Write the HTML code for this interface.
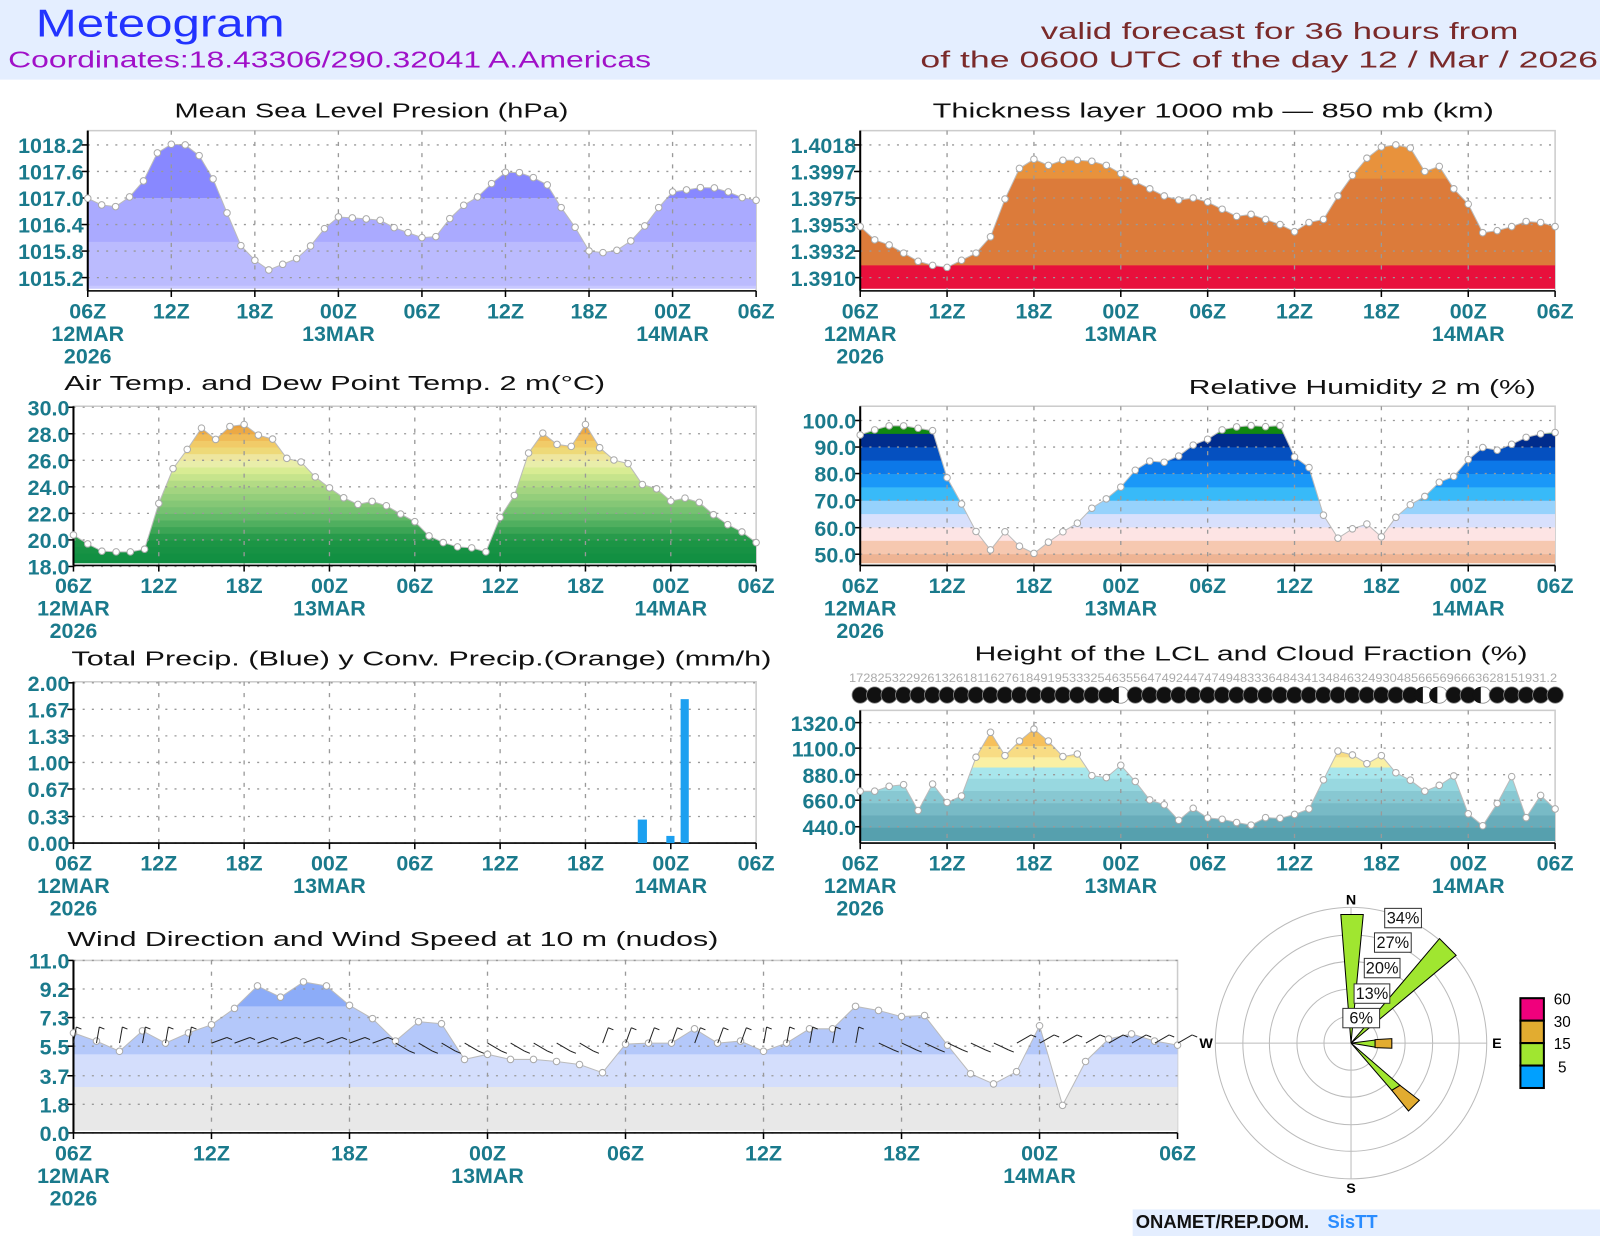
<!DOCTYPE html>
<html><head><meta charset="utf-8"><style>
html,body{margin:0;padding:0;background:#fff}
svg{display:block}
text{font-family:"Liberation Sans",sans-serif}
.t{font-size:20px;fill:#111}
.yl{font-family:"Liberation Sans Narrow","Liberation Sans",sans-serif;font-size:21px;fill:#1a7a8c;text-anchor:end;font-weight:bold}
.xl{font-family:"Liberation Sans Narrow","Liberation Sans",sans-serif;font-size:21px;fill:#1a7a8c;text-anchor:middle;font-weight:bold}
</style></head><body>
<svg id="s" xmlns="http://www.w3.org/2000/svg" width="1600" height="1236" viewBox="0 0 1568 1211" preserveAspectRatio="none">
<rect x="0" y="0" width="1568" height="1211" fill="#fff"/>
<rect x="0" y="0" width="1568" height="78" fill="#e4eeff"/>
<text x="35" y="36" font-size="38" fill="#2233ff" textLength="244" lengthAdjust="spacingAndGlyphs">Meteogram</text>
<text x="8" y="66" font-size="23" fill="#a010c8" textLength="630" lengthAdjust="spacingAndGlyphs">Coordinates:18.43306/290.32041  A.Americas</text>
<text x="1020" y="38" font-size="23" fill="#7a2a2a" textLength="468" lengthAdjust="spacingAndGlyphs">valid forecast for 36 hours from</text>
<text x="902" y="66" font-size="23" fill="#7a2a2a" textLength="664" lengthAdjust="spacingAndGlyphs">of the 0600 UTC of the day 12 / Mar / 2026</text>
<text class="t" x="171" y="115" textLength="386" lengthAdjust="spacingAndGlyphs">Mean Sea Level Presion (hPa)</text>
<text class="t" x="914" y="115" textLength="550" lengthAdjust="spacingAndGlyphs">Thickness layer 1000 mb — 850 mb (km)</text>
<text class="t" x="63" y="382" textLength="530" lengthAdjust="spacingAndGlyphs">Air Temp. and Dew Point Temp. 2 m(°C)</text>
<text class="t" x="1165" y="386" textLength="340" lengthAdjust="spacingAndGlyphs">Relative Humidity 2 m (%)</text>
<text class="t" x="70" y="652" textLength="686" lengthAdjust="spacingAndGlyphs">Total Precip. (Blue) y Conv. Precip.(Orange) (mm/h)</text>
<text class="t" x="955" y="647" textLength="542" lengthAdjust="spacingAndGlyphs">Height of the LCL and Cloud Fraction (%)</text>
<text class="t" x="66" y="927" textLength="638" lengthAdjust="spacingAndGlyphs">Wind Direction and Wind Speed at 10 m (nudos)</text>
<rect x="1110" y="1185" width="458" height="26" fill="#e4eeff"/>
<text x="1113" y="1203" font-size="18" fill="#111" font-weight="bold" textLength="170" lengthAdjust="spacingAndGlyphs">ONAMET/REP.DOM.</text>
<text x="1301" y="1203" font-size="18" fill="#2a8cff" font-weight="bold">SisTT</text>
<g id="g"></g>
</svg>
<script>
var NS="http://www.w3.org/2000/svg",G=document.getElementById('g');
function el(t,a,p){var e=document.createElementNS(NS,t);for(var k in a)e.setAttribute(k,a[k]);(p||G).appendChild(e);return e;}
function tx(s,a){var e=el('text',a);e.textContent=s;return e;}
var cid=0;
function panel(o){
 var x0=o.x0,x1=o.x1,y0=o.y0,y1=o.y1,n=o.n||49;
 el('rect',{x:x0,y:y0,width:x1-x0,height:y1-y0,fill:'#fff',stroke:'#ccc','stroke-width':1.5});
 var pts=[];
 if(o.ys){for(var i=0;i<o.ys.length;i++)pts.push([x0+(x1-x0)*i/(o.ys.length-1),o.ys[i]]);}
 if(pts.length){
  cid++;var cp=el('clipPath',{id:'c'+cid});
  var d='M'+x0+','+(y1-2)+' '+pts.map(function(p){return 'L'+p[0].toFixed(1)+','+p[1].toFixed(1)}).join(' ')+' L'+x1+','+(y1-2)+'Z';
  el('path',{d:d},cp);
  var g=el('g',{'clip-path':'url(#c'+cid+')'});
  o.bands.forEach(function(b){el('rect',{x:x0,y:b[0],width:x1-x0,height:b[1]-b[0]+0.5,fill:b[2]},g);});
  el('polyline',{points:pts.map(function(p){return p[0].toFixed(1)+','+p[1].toFixed(1)}).join(' '),fill:'none',stroke:'#bbb','stroke-width':1});
 }
 // grid
 o.yt.forEach(function(t){el('line',{x1:x0,x2:x1,y1:t[0],y2:t[0],stroke:'#999','stroke-dasharray':'2,7','stroke-width':1.3});
   el('line',{x1:x0-6,x2:x0,y1:t[0],y2:t[0],stroke:'#000','stroke-width':1.5});
   tx(t[1],{x:x0-4,y:t[0]+8,'class':'yl'});});
 var labs=['06Z','12Z','18Z','00Z','06Z','12Z','18Z','00Z','06Z'];
 for(var k=0;k<9;k++){var xx=x0+(x1-x0)*k/8;
  if(k>0&&k<8)el('line',{x1:xx,x2:xx,y1:y0,y2:y1,stroke:'#999','stroke-dasharray':'4,7','stroke-width':1.3});
  el('line',{x1:xx,x2:xx,y1:y1,y2:y1+6,stroke:'#000','stroke-width':1.5});
  tx(labs[k],{x:xx,y:y1+27,'class':'xl'});}
 tx('12MAR',{x:x0,y:y1+49,'class':'xl'});tx('2026',{x:x0,y:y1+71,'class':'xl'});
 tx('13MAR',{x:x0+(x1-x0)*3/8,y:y1+49,'class':'xl'});tx('14MAR',{x:x0+(x1-x0)*7/8,y:y1+49,'class':'xl'});
 el('line',{x1:x0,x2:x0,y1:y0,y2:y1,stroke:'#000','stroke-width':2});
 el('line',{x1:x0,x2:x1,y1:y1,y2:y1,stroke:'#000','stroke-width':1.5});
 if(o.dots!==false)pts.forEach(function(p){el('circle',{cx:p[0],cy:p[1],r:3.2,fill:'#fff',stroke:'#aaa','stroke-width':1});});
}
// P1 MSLP
var mz=[322,342,347,318,270,186,160,162,194,264,366,464,508,537,520,503,465,413,378,381,384,388,410,425,440,437,383,343,318,278,244,245,260,282,350,409,480,485,478,450,405,350,303,297,290,291,303,320,328];
var y1=mz.map(function(z){return 142+(z-162)*130/398;});
panel({x0:86,x1:741,y0:128,y1:285,ys:y1,
 bands:[[120,194,'#8888ff'],[194,237,'#aaaaff'],[237,280,'#bbbbfe'],[280,285,'#c8c8ff']],
 yt:[[142,'1018.2'],[168,'1017.6'],[194,'1017.0'],[220,'1016.4'],[246,'1015.8'],[272,'1015.2']]});
// P2 thickness
var th=[222,235,240,248,256,260,262,255,248,232,195,165,156,162,157,157,158,162,170,178,185,192,196,194,198,205,212,210,215,220,227,218,215,192,172,155,144,142,145,168,163,185,200,228,226,222,217,218,222];
panel({x0:843,x1:1524,y0:128,y1:285,ys:th,
 bands:[[120,175,'#e8923c'],[175,260,'#dc7b3a'],[260,285,'#e8103c']],
 yt:[[142,'1.4018'],[168,'1.3997'],[194,'1.3975'],[220,'1.3953'],[246,'1.3932'],[272,'1.3910']]});
// P3 temp
var tz=[465,492,514,516,516,508,370,265,207,143,177,138,132,164,176,234,245,290,323,353,373,364,377,402,425,468,488,501,504,516,412,346,218,158,192,198,132,202,239,250,313,326,363,354,367,404,434,456,488];
var ty=tz.map(function(z){return 399+(z-80)*156/480;});
function tY(v){return 399+(30-v)*13;}
var tb=[],stops=[[18,[10,140,64]],[20,[30,150,70]],[22,[110,190,110]],[24,[170,215,130]],[25.5,[225,240,150]],[26,[240,236,190]],[26.5,[236,224,128]],[27.5,[242,196,96]],[28.5,[234,160,60]],[30,[230,150,50]]];
function col(v){for(var i=0;i<stops.length-1;i++){var a=stops[i],b=stops[i+1];if(v<=b[0]){var f=(v-a[0])/(b[0]-a[0]);return 'rgb('+a[1].map(function(c,j){return Math.round(c+(b[1][j]-c)*f)}).join(',')+')';}}return 'rgb(230,150,50)';}
for(var v=18;v<30;v+=0.5)tb.push([tY(v+0.5),tY(v),col(v+0.25)]);
panel({x0:72,x1:741,y0:398,y1:554,ys:ty,bands:tb,
 yt:[[399,'30.0'],[425,'28.0'],[451,'26.0'],[477,'24.0'],[503,'22.0'],[529,'20.0'],[555,'18.0']]});
// P4 RH
var rh=[94.6,96.5,98,98,97.1,96.2,78.6,68.8,58.5,51.6,58.4,53,50.3,54.5,58.4,61.6,67.2,70.7,75.1,81.4,84.8,84.4,86.7,90.8,93,96.5,97.6,98.1,97.7,98.1,86.4,82.4,64.6,56,59.5,61.3,56.5,63.8,68.5,71.6,76.9,79.1,85.4,89.9,88.9,91.1,93.7,95,95.5];
function rY(v){return 412+(100-v)*2.62;}
var rc=[[95,105,'#118811'],[90,95,'#002c8c'],[85,90,'#0550c0'],[80,85,'#0c78e8'],[75,80,'#1a98f8'],[70,75,'#38baf8'],[65,70,'#96d2fc'],[60,65,'#d8e0fc'],[55,60,'#fde4e4'],[50,55,'#f6c8b0'],[40,50,'#eeb494']];
panel({x0:843,x1:1524,y0:398,y1:554,ys:rh.map(rY),bands:rc.map(function(c){return [rY(c[1]),rY(c[0]),c[2]]}),
 yt:[[412,'100.0'],[438,'90.0'],[464,'80.0'],[490,'70.0'],[517,'60.0'],[543,'50.0']]});
// P5 precip
panel({x0:72,x1:741,y0:668,y1:826,dots:false,
 yt:[[669,'2.00'],[695,'1.67'],[721,'1.33'],[747,'1.00'],[773,'0.67'],[800,'0.33'],[826,'0.00']]});
el('rect',{x:625,y:803,width:9,height:23,fill:'#1ca0f0'});
el('rect',{x:653,y:819,width:8,height:7,fill:'#1ca0f0'});
el('rect',{x:667,y:685,width:8,height:141,fill:'#1ca0f0'});
// P6 LCL
var lz=[510,510,495,490,570,488,545,525,405,328,400,355,318,355,403,395,462,468,430,480,537,552,600,563,593,597,607,615,592,594,582,565,475,386,398,425,400,453,476,510,492,463,580,617,548,465,592,523,565];
var ly=lz.map(function(z){return 708+(z-298)*102/322;});
panel({x0:843,x1:1524,y0:696,y1:826,ys:ly,
 bands:[[690,718,'#f0a840'],[718,731,'#f6c05c'],[731,742,'#f8dc84'],[742,752,'#faf0a4'],[752,763,'#a8e6ec'],[763,775,'#98d8e0'],[775,787,'#88c8d2'],[787,799,'#78bac6'],[799,811,'#68acba'],[811,826,'#56a0ae']],
 yt:[[708,'1320.0'],[733,'1100.0'],[759,'880.0'],[784,'660.0'],[810,'440.0']]});
// clouds
tx('17282532292613261811627618491953332546355647492447474948333648434134846324930485665696663628151931.2',{x:832,y:668,'font-size':12,fill:'#aaa',textLength:694,lengthAdjust:'spacingAndGlyphs'});
for(var i=0;i<49;i++){var cx=843+14.19*i;el('circle',{cx:cx,cy:681,r:8,fill:(i==18||i==43||i==40||i==39)?'#fff':'#111',stroke:'#888','stroke-width':0.8});
 if(i==18||i==39||i==40||i==43)el('path',{d:'M'+(cx-2)+',673 A8,8 0 0 0 '+(cx-2)+',689 Z',fill:'#111'});}
// P7 wind
var wy=[1012,1020,1030,1010,1022,1012,1004,988,966,977,962,966,985,998,1020,1001,1003,1038,1033,1038,1038,1040,1043,1051,1023,1022,1022,1008,1022,1020,1030,1022,1008,1008,986,990,996,995,1024,1052,1062,1050,1005,1083,1040,1018,1013,1020,1024];
panel({x0:72,x1:1154,y0:941,y1:1110,ys:wy,
 bands:[[930,986,'#8cacf8'],[986,1033,'#b4c8fa'],[1033,1065,'#d4defc'],[1065,1110,'#e8e8e8']],
 yt:[[941,'11.0'],[969,'9.2'],[997,'7.3'],[1025,'5.5'],[1054,'3.7'],[1082,'1.8'],[1110,'0.0']]});
for(var i=0;i<49;i++){var x=72+22.55*i,a;
 if(i<6)a=-80;else if(i<14)a=-20;else if(i<23)a=30;else if(i<30)a=-70;else if(i<35)a=-80;else if(i<41)a=25;else a=-30;
 var r=a*Math.PI/180,x2=x+16*Math.cos(r),yy=1022,y2=yy+16*Math.sin(r);
 el('line',{x1:x,y1:yy,x2:x2,y2:y2,stroke:'#222','stroke-width':1});
 el('line',{x1:x2,y1:y2,x2:x2+5,y2:y2+2,stroke:'#222','stroke-width':1});}
// wind rose
var C=[1324,1022];
[26.5,53,80,106,133].forEach(function(r){el('circle',{cx:C[0],cy:C[1],r:r,fill:'none',stroke:'#bbb','stroke-width':1});});
el('line',{x1:C[0]-133,y1:C[1],x2:C[0]+133,y2:C[1],stroke:'#bbb'});
el('line',{x1:C[0],y1:C[1]-133,x2:C[0],y2:C[1]+133,stroke:'#bbb'});
function poly(p,f){el('polygon',{points:p.map(function(q){return q.join(',')}).join(' '),fill:f,stroke:'#000','stroke-width':1});}
poly([C,[1314,896],[1336,896]],'#a0e630');
poly([C,[1410.7,919.6],[1427,936]],'#a0e630');
poly([C,[1347.6,1019],[1347.6,1026]],'#a0e630');
poly([[1347.6,1018.6],[1364,1017.6],[1364,1027],[1347.6,1026.5]],'#e2ac30');
poly([C,[1364,1068.3],[1372,1063.4]],'#a0e630');
poly([[1364,1068.3],[1372,1063.4],[1391,1078],[1380.3,1088.5]],'#e2ac30');
[['6%',1316,988,36],['13%',1327,964,35],['20%',1337,939,35],['27%',1347,914,36],['34%',1357,890,36]].forEach(function(b){
 el('rect',{x:b[1],y:b[2],width:b[3],height:19,fill:'#fff',stroke:'#333'});
 tx(b[0],{x:b[1]+b[3]/2,y:b[2]+15,'font-size':16,'text-anchor':'middle',fill:'#111'});});
tx('N',{x:1324,y:886,'font-size':14,'text-anchor':'middle','font-weight':'bold'});
tx('S',{x:1324,y:1169,'font-size':14,'text-anchor':'middle','font-weight':'bold'});
tx('W',{x:1182,y:1027,'font-size':14,'text-anchor':'middle','font-weight':'bold'});
tx('E',{x:1467,y:1027,'font-size':14,'text-anchor':'middle','font-weight':'bold'});
[['#f0007c',978],['#e2ac30',1000],['#a0e630',1022],['#00a0ff',1044]].forEach(function(c){el('rect',{x:1490,y:c[1],width:23,height:22,fill:c[0],stroke:'#000','stroke-width':2});});
[['60',984],['30',1006],['15',1028],['5',1051]].forEach(function(l){tx(l[0],{x:1531,y:l[1],'font-size':15,'text-anchor':'middle'});});
</script>
</body></html>
